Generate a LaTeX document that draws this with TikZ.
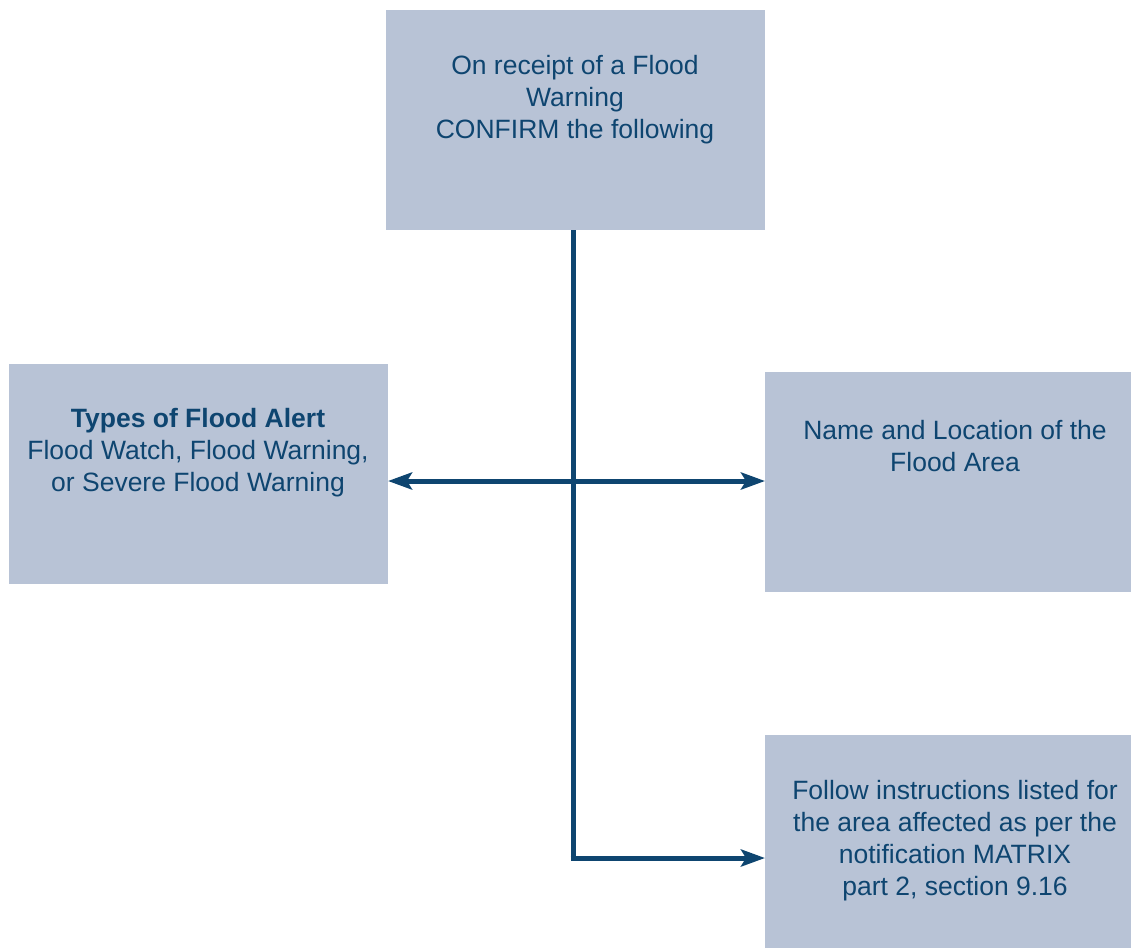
\documentclass[tikz,border=0pt]{standalone}
\usepackage{fontspec}
\setmainfont{Liberation Sans}
\usepackage{tikz}
\usetikzlibrary{positioning, arrows.meta}

\definecolor{boxfill}{HTML}{B8C3D6}
\definecolor{navy}{HTML}{0E4570}

\begin{document}
\begin{tikzpicture}[
    x=1pt, y=-1pt,
    box/.style={rectangle, fill=boxfill, draw=none, inner sep=0pt, anchor=north west},
    txt/.style={text=navy, align=center, font=\fontsize{26.5}{32}\selectfont},
    link/.style={draw=navy, line width=5pt},
    arrow/.style={link, -{Stealth[length=24pt, width=17pt, inset=5pt]}}
]
    \useasboundingbox (0,0) rectangle (1131,948);

    % === Boxes ===
    \node[box, minimum width=379pt, minimum height=220pt] (top) at (386,10) {};
    \node[box, minimum width=379pt, minimum height=220pt] (alert) at (9,364) {};
    \node[box, minimum width=366pt, minimum height=220pt] (area) at (765,372) {};
    \node[box, minimum width=366pt, minimum height=213pt] (follow) at (765,735) {};

    % === Texts ===
    \node[txt] (toptxt) at (575,100) {On receipt of a Flood\\Warning\\CONFIRM the following};
    \node[txt] (alerttxt) at (198,453) {\textbf{Types of Flood Alert}\\Flood Watch, Flood Warning,\\or Severe Flood Warning};
    \node[txt] (areatxt) at (955,446) {Name and Location of the\\Flood Area};
    \node[txt] (followtxt) at (955,841) {Follow instructions listed for\\the area affected as per the\\notification MATRIX\\part 2, section 9.16};

    % === Connectors ===
    \coordinate (corner) at (573,858);
    \coordinate (midl) at (388,481);
    \coordinate (midr) at (765,481);
    \draw[link] (top.south -| corner) -- ([yshift=2.5pt]corner);
    \draw[arrow] ([xshift=-2.5pt]corner) -- (corner -| follow.west);
    \draw[arrow, {Stealth[length=24pt, width=17pt, inset=5pt]}-{Stealth[length=24pt, width=17pt, inset=5pt]}] (midl) -- (midr);

\end{tikzpicture}
\end{document}
